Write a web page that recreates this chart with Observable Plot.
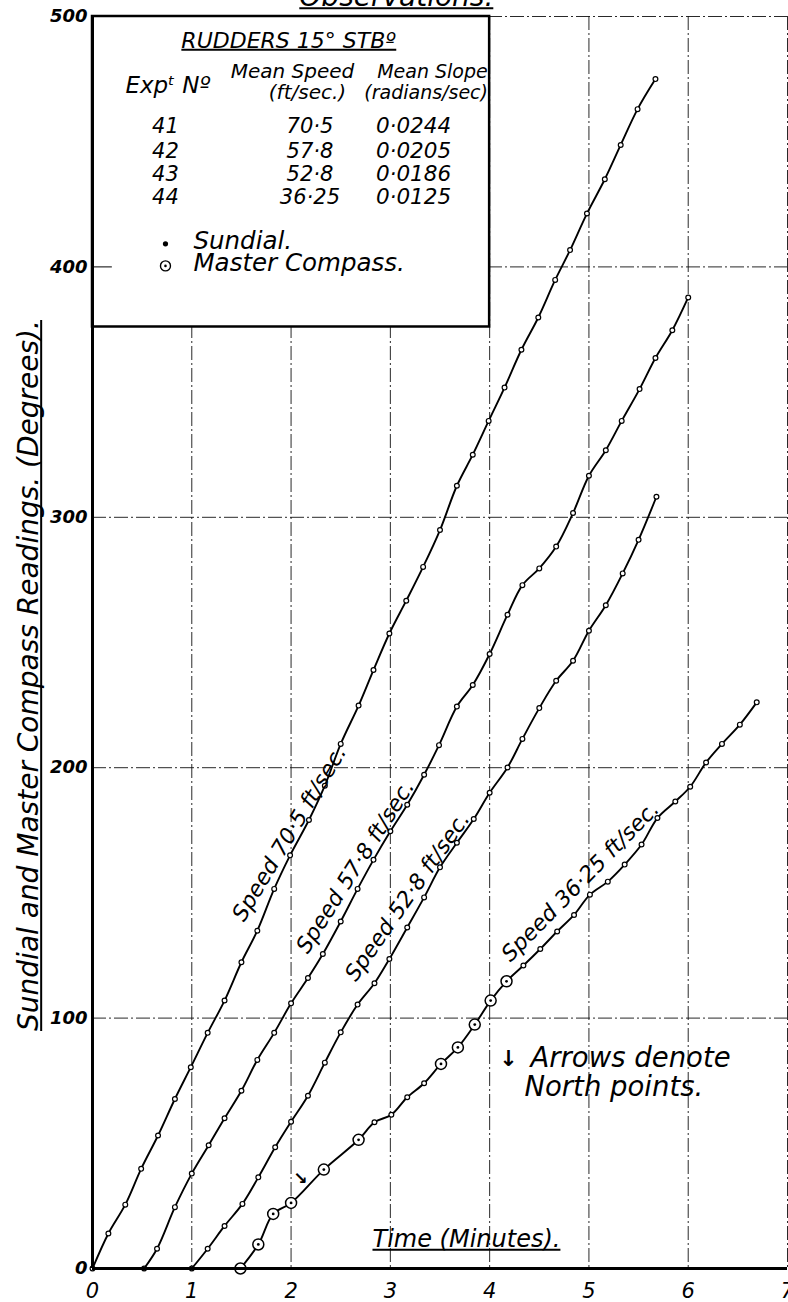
<!DOCTYPE html>
<html><head><meta charset="utf-8">
<script src="https://cdn.jsdelivr.net/npm/d3@7"></script>
<script src="https://cdn.jsdelivr.net/npm/@observablehq/plot@0.6"></script>
<style>
body{margin:0;background:#fff;}
#chart svg{display:block;}
</style></head><body><div id="chart"></div>
<script>
// ---- data ----
const xTicks = [0,1,2,3,4,5,6,7];
const yTicks = [0,100,200,300,400,500];

const t41 = [0,0.16,0.33,0.49,0.66,0.83,0.99,1.16,1.33,1.5,1.66,1.83,1.99,2.18,2.34,2.5,2.68,2.83,2.99,3.16,3.33,3.5,3.67,3.83,3.99,4.15,4.32,4.49,4.66,4.81,4.98,5.16,5.32,5.49,5.67];
const d41 = [0,14,25.5,39.8,53.1,67.7,80.4,94.1,107,122.3,134.9,151.6,165,179.1,192.8,209.5,224.8,239,253.6,266.7,280.2,294.9,312.6,325,338.5,351.8,366.9,379.8,394.8,406.7,421.3,435,448.7,463,475];

const t42 = [0.52,0.65,0.83,1.0,1.17,1.33,1.5,1.66,1.83,2.0,2.17,2.32,2.5,2.67,2.83,3.0,3.17,3.34,3.49,3.67,3.83,4.0,4.18,4.33,4.5,4.67,4.84,5.0,5.17,5.33,5.51,5.67,5.84,6.0];
const d42 = [0,7.9,24.5,37.9,49.2,60,71,83.3,94.1,105.9,116,125.6,138.6,151.6,163.2,174.6,185.2,197.2,209,224.4,233,245.4,261.1,272.9,279.6,288.3,301.7,316.6,326.8,338.5,351.2,363.6,374.7,387.8];

const t43 = [1.0,1.16,1.33,1.51,1.67,1.84,2.0,2.17,2.34,2.5,2.67,2.84,2.99,3.17,3.34,3.5,3.67,3.84,4.0,4.18,4.33,4.5,4.67,4.84,5.0,5.17,5.34,5.5,5.68];
const d43 = [0,7.9,17,25.8,36.4,48.4,58.6,69,82.2,94.3,105.4,113.9,123.6,136.2,148.2,160.2,170,179.5,190,200.1,211.5,223.8,234.7,242.7,254.7,264.9,277.6,291,308.2];

const t44 = [1.49,1.67,1.82,2.0,2.33,2.68,2.84,3.01,3.17,3.34,3.51,3.68,3.85,4.01,4.17,4.34,4.51,4.68,4.85,5.01,5.19,5.36,5.53,5.69,5.87,6.02,6.18,6.34,6.52,6.69];
const d44 = [0,9.6,21.8,26.2,39.5,51.4,58.4,61.4,68.4,74,81.7,88.3,97.4,107,114.7,121,127.6,134.6,141.2,149.3,154.5,161.3,169.3,179.9,186.5,192.4,202.1,209.5,217.2,226.1];
const compassTimes44 = [1.49,1.67,1.82,2.0,2.33,2.68,3.51,3.68,3.85,4.01,4.17];

const expNo = ["41","42","43","44"];
const meanSpeed = ["70·5","57·8","52·8","36·25"];
const meanSlope = ["0·0244","0·0205","0·0186","0·0125"];
const speedLabels = ["Speed 70·5 ft/sec.","Speed 57·8 ft/sec.","Speed 52·8 ft/sec.","Speed 36·25 ft/sec."];

// ---- build table ----
const series = [["41", t41, d41], ["42", t42, d42], ["43", t43, d43], ["44", t44, d44]];
const rows = series.flatMap(([exp, ts, ds]) => ts.map((t, i) => ({
  exp, t, deg: ds[i],
  inst: (exp === "44" && compassTimes44.includes(t)) ? "compass" : "sundial"
})));
const sundial = rows.filter(d => d.inst === "sundial");
const compass = rows.filter(d => d.inst === "compass");

const FONT = "'DejaVu Sans', sans-serif";
const IT = {fontStyle: "italic"};
const UL = {ariaDescription: "underlined"};
const grid = {stroke: "#111", strokeWidth: 0.9, strokeDasharray: "14,3,2,3"};
const rowY = [453.5, 443.5, 434.3, 425.1];

const svg = Plot.plot({
  width: 788, height: 1302,
  marginLeft: 92, marginRight: 1, marginTop: 16, marginBottom: 34,
  x: {domain: [0, 7]},
  y: {domain: [0, 500]},
  style: {fontFamily: FONT, background: "white", color: "black"},
  marks: [
    Plot.ruleX(xTicks.slice(1), grid),
    Plot.ruleY(yTicks.slice(1), grid),
    // legend box
    Plot.rect([0], {x1: 0, x2: 4, y1: 376, y2: 500, fill: "white", stroke: "black", strokeWidth: 2.5}),
    Plot.ruleY([400], {x1: 0, x2: 0.2, stroke: "black", strokeWidth: 1}),
    // curves
    Plot.line(rows, {x: "t", y: "deg", z: "exp", stroke: "black", strokeWidth: 1.9, curve: "catmull-rom"}),
    Plot.dot(sundial, {x: "t", y: "deg", r: 2.4, fill: "white", stroke: "black", strokeWidth: 1.2}),
    Plot.dot(compass, {x: "t", y: "deg", r: 5.5, fill: "white", stroke: "black", strokeWidth: 1.5}),
    Plot.dot(compass, {x: "t", y: "deg", r: 1.4, fill: "black"}),
    // axes
    Plot.ruleX([0], {stroke: "black", strokeWidth: 3}),
    Plot.ruleY([0], {stroke: "black", strokeWidth: 3}),
    Plot.axisX(xTicks, {tickSize: 0, tickPadding: 15, fontSize: 21, ...IT, tickFormat: d => String(d), label: null}),
    Plot.axisY(yTicks, {tickSize: 0, tickPadding: 5, fontSize: 18, ...IT, fontWeight: "bold", tickFormat: d => String(d), label: null}),
    // y label
    Plot.text(["Sundial and Master Compass Readings. (Degrees)."], {frameAnchor: "left", textAnchor: "middle", dx: -63, dy: 33, rotate: -90, fontSize: 28, ...IT, ...UL}),
    // title (cut off at top)
    Plot.text(["Observations."], {x: 3.06, y: 500, dy: -11, lineAnchor: "bottom", fontSize: 28, ...IT, ...UL}),
    // x label
    Plot.text(["Time (Minutes)."], {x: 2.82, y: 8.4, textAnchor: "start", lineAnchor: "bottom", fontSize: 24, ...IT, ...UL}),
    // legend
    Plot.text(["RUDDERS 15° STBº"], {x: 1.974, y: 487.4, lineAnchor: "bottom", fontSize: 22, ...IT, ...UL}),
    Plot.text(["Expᵗ Nº"], {x: 0.332, y: 469.5, textAnchor: "start", lineAnchor: "bottom", fontSize: 23, ...IT}),
    Plot.text(["Mean Speed", "(ft/sec.)"], {x: (d, i) => i ? 2.165 : 2.014, y: (d, i) => i ? 467 : 475.4, lineAnchor: "bottom", fontSize: 20, ...IT}),
    Plot.text(["Mean Slope", "(radians/sec)"], {x: (d, i) => i ? 3.36 : 3.424, y: (d, i) => i ? 467 : 475.4, lineAnchor: "bottom", fontSize: 19, ...IT}),
    Plot.text(expNo, {x: 0.735, y: (d, i) => rowY[i], lineAnchor: "bottom", fontSize: 21, ...IT}),
    Plot.text(meanSpeed, {x: 2.19, y: (d, i) => rowY[i], lineAnchor: "bottom", fontSize: 21, ...IT}),
    Plot.text(meanSlope, {x: 3.233, y: (d, i) => rowY[i], lineAnchor: "bottom", fontSize: 21.5, ...IT}),
    Plot.dot([0], {x: 0.735, y: 409.2, r: 2.6, fill: "black"}),
    Plot.dot([0], {x: 0.735, y: 400.4, r: 5, fill: "white", stroke: "black", strokeWidth: 1.4}),
    Plot.dot([0], {x: 0.735, y: 400.4, r: 1.3, fill: "black"}),
    Plot.text(["Sundial.", "Master Compass."], {x: 1.017, y: (d, i) => i ? 398.4 : 407.2, textAnchor: "start", lineAnchor: "bottom", fontSize: 24.5, ...IT}),
    // speed labels along curves
    Plot.text(speedLabels, {
      x: (d, i) => [1.984, 2.649, 3.172, 4.914][i],
      y: (d, i) => [173.7, 160.5, 148.5, 154.5][i],
      rotate: (d, i) => [-59, -57.5, -55, -45.5][i],
      fontSize: 22, ...IT
    }),
    // north arrows note
    Plot.text(["↓"], {x: 4.19, y: 83.8, fontSize: 22, fontWeight: "bold"}),
    Plot.text(["↘"], {x: 2.095, y: 35.9, fontSize: 17, fontWeight: "bold"}),
    Plot.text(["Arrows denote", "North points."], {x: (d, i) => i ? 4.35 : 4.411, y: (d, i) => i ? 68.7 : 80.6, textAnchor: "start", lineAnchor: "bottom", fontSize: 27.5, ...IT})
  ]
});
document.getElementById("chart").appendChild(svg);
// underline the underlined labels
svg.querySelectorAll('g[aria-description="underlined"] text').forEach(t => {
  const bb = t.getBBox();
  const yy = bb.y + bb.height * 0.87;
  const line = document.createElementNS("http://www.w3.org/2000/svg", "line");
  line.setAttribute("x1", bb.x); line.setAttribute("x2", bb.x + bb.width);
  line.setAttribute("y1", yy); line.setAttribute("y2", yy);
  line.setAttribute("stroke", "black"); line.setAttribute("stroke-width", "2");
  const tr = t.getAttribute("transform");
  if (tr) line.setAttribute("transform", tr);
  t.parentNode.appendChild(line);
});
</script>
</body></html>
